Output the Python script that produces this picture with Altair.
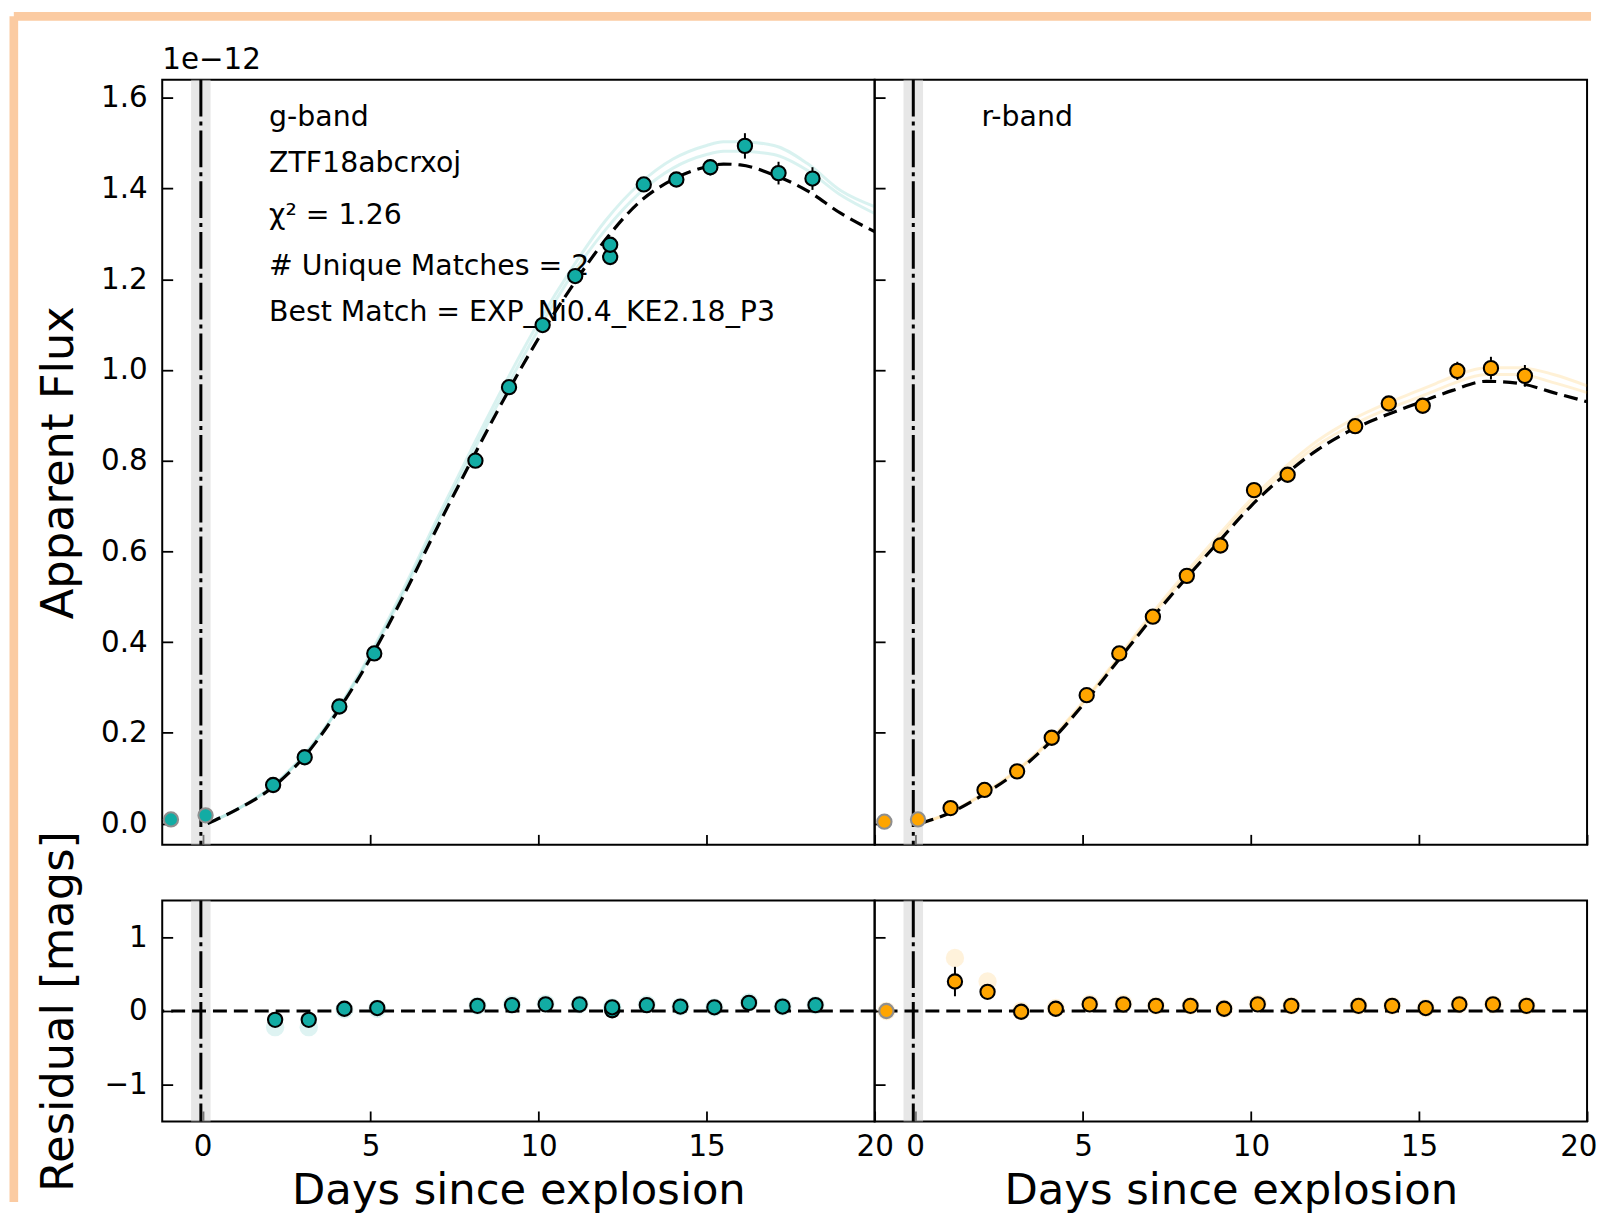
import altair as alt
import pandas as pd

# ---------------- data (flux in units of 1e-12) ----------------
g_days = [-0.94, 0.09, 2.10, 3.04, 4.07, 5.11, 8.12, 9.12, 10.12, 11.09,
          12.13, 12.13, 13.13, 14.10, 15.11, 16.14, 17.14, 18.15]
g_flux = [0.009, 0.018, 0.085, 0.146, 0.258, 0.375, 0.800, 0.962, 1.099, 1.207,
          1.249, 1.276, 1.409, 1.420, 1.447, 1.494, 1.434, 1.422]
g_ferr = [0.008, 0.008, 0.010, 0.010, 0.010, 0.010, 0.012, 0.012, 0.012, 0.012,
          0.014, 0.014, 0.016, 0.016, 0.018, 0.028, 0.025, 0.025]
g_fit = ["no", "no"] + ["yes"] * 16

r_days = [-0.91, 0.09, 1.06, 2.07, 3.04, 4.07, 5.11, 6.08, 7.08, 8.09, 9.09,
          10.09, 11.09, 13.10, 14.10, 15.11, 16.14, 17.14, 18.15]
r_flux = [0.004, 0.009, 0.034, 0.074, 0.115, 0.189, 0.283, 0.375, 0.456, 0.546, 0.613,
          0.735, 0.769, 0.876, 0.926, 0.921, 0.998, 1.004, 0.987]
r_ferr = [0.008, 0.008, 0.010, 0.010, 0.010, 0.010, 0.010, 0.012, 0.012, 0.012, 0.012,
          0.014, 0.014, 0.016, 0.016, 0.016, 0.020, 0.025, 0.024]
r_fit = ["no", "no"] + ["yes"] * 17

# best-match model and two other matched models
model_days = [0.15, 1, 2, 3, 4, 5, 6, 7, 8, 9, 10, 11, 12, 13, 14, 15, 15.5, 16, 17, 18, 19, 20]
g_model = [0.0, 0.03, 0.075, 0.145, 0.245, 0.365, 0.505, 0.655, 0.80, 0.94, 1.07, 1.185,
           1.288, 1.37, 1.42, 1.448, 1.454, 1.452, 1.43, 1.395, 1.345, 1.305]
g_alt1 = [0.0, 0.03, 0.078, 0.15, 0.25, 0.375, 0.52, 0.675, 0.825, 0.97, 1.105, 1.225,
          1.33, 1.41, 1.465, 1.495, 1.503, 1.503, 1.495, 1.455, 1.395, 1.36]
g_alt2 = [0.0, 0.03, 0.077, 0.148, 0.248, 0.37, 0.512, 0.665, 0.812, 0.955, 1.09, 1.21,
          1.31, 1.39, 1.445, 1.475, 1.482, 1.482, 1.475, 1.44, 1.385, 1.345]
r_model = [0.0, 0.022, 0.062, 0.112, 0.178, 0.262, 0.355, 0.448, 0.535, 0.618, 0.70, 0.768,
           0.825, 0.868, 0.90, 0.928, 0.942, 0.955, 0.975, 0.97, 0.95, 0.93]
r_alt1 = [0.0, 0.023, 0.065, 0.116, 0.183, 0.268, 0.362, 0.458, 0.548, 0.633, 0.715, 0.785,
          0.845, 0.89, 0.925, 0.955, 0.97, 0.985, 1.005, 1.005, 0.99, 0.965]
r_alt2 = [0.0, 0.022, 0.063, 0.114, 0.18, 0.265, 0.358, 0.452, 0.54, 0.625, 0.707, 0.776,
          0.835, 0.878, 0.912, 0.94, 0.955, 0.97, 0.99, 0.99, 0.972, 0.95]

# residuals [mags]
g_res_days = [2.16, 3.16, 4.22, 5.20, 8.18, 9.21, 10.21, 11.22, 12.19, 12.19,
              13.22, 14.22, 15.23, 16.26, 17.26, 18.24]
g_res = [-0.12, -0.12, 0.03, 0.04, 0.07, 0.08, 0.09, 0.09, 0.01, 0.05,
         0.08, 0.06, 0.05, 0.11, 0.06, 0.08]
g_res_err = [0.05, 0.05, 0.03, 0.03, 0.03, 0.03, 0.03, 0.03, 0.03, 0.03,
             0.03, 0.03, 0.03, 0.03, 0.03, 0.03]
g_res_alt = [-0.22, -0.22, 0.02, 0.03, 0.07, 0.09, 0.10, 0.09, 0.03, 0.05,
             0.09, 0.06, 0.05, 0.12, 0.06, 0.08]
g_res_fit = ["yes"] * 16

r_res_days = [-0.85, 1.19, 2.16, 3.16, 4.19, 5.20, 6.20, 7.17, 8.20, 9.20,
              10.20, 11.20, 13.20, 14.20, 15.20, 16.20, 17.20, 18.20]
r_res = [0.0, 0.40, 0.26, -0.01, 0.03, 0.09, 0.09, 0.07, 0.07, 0.03,
         0.09, 0.07, 0.07, 0.07, 0.04, 0.09, 0.09, 0.07]
r_res_err = [0.03, 0.20, 0.08, 0.04, 0.03, 0.03, 0.03, 0.03, 0.03, 0.03,
             0.03, 0.03, 0.03, 0.03, 0.03, 0.03, 0.03, 0.03]
r_res_alt = [0.0, 0.72, 0.40, 0.0, 0.04, 0.10, 0.10, 0.07, 0.07, 0.03,
             0.10, 0.07, 0.07, 0.07, 0.04, 0.09, 0.09, 0.07]
r_res_fit = ["no"] + ["yes"] * 17

explosion_day = [-0.05]
explosion_band = [-0.34, 0.24]

g_notes = ["g-band", "ZTF18abcrxoj", "χ² = 1.26", "# Unique Matches = 2",
           "Best Match = EXP_Ni0.4_KE2.18_P3"]
g_notes_y = [1.537, 1.436, 1.3225, 1.209, 1.107]
r_notes = ["r-band"]
r_notes_y = [1.537]
notes_x = 1.98
offset_text = ["1e−12"]
offset_pos = [-1.2, 1.664]

# ---------------- styling ----------------
FONT = "DejaVu Sans"
TEAL = "#12aca4"
ORANGE = "#ffa500"
PEACH = "#fbcba2"
W, H_TOP, H_RES = 716, 769, 222
GAP = 56
TICK = 10.5
STRIP = 8.7
X_DOMAIN = [-1.2, 20.0]
FLUX_DOMAIN = [-0.047, 1.64]
RES_DOMAIN = [-1.5, 1.5]
PT_SIZE = 205
PT_STROKE = 2.1

x_scale = alt.Scale(domain=X_DOMAIN, nice=False, zero=False)
flux_scale = alt.Scale(domain=FLUX_DOMAIN, nice=False, zero=False)
res_scale = alt.Scale(domain=RES_DOMAIN, nice=False, zero=False)


def x_axis(labels, flush=False):
    kw = dict(values=[0, 5, 10, 15, 20], tickSize=TICK, offset=-TICK, domain=False,
              grid=False, tickColor="black", tickWidth=1.8, labels=labels)
    if labels:
        kw.update(labelFontSize=29.5, labelFont=FONT, labelColor="black", labelPadding=11,
                  title="Days since explosion", titleFontSize=43.5, titleFont=FONT,
                  titleFontWeight="normal", titleColor="black",
                  titleBaseline="alphabetic", titleY=93)
        if flush:
            kw.update(labelFlush=True, labelFlushOffset=10)
        else:
            kw.update(labelFlush=False)
    else:
        kw["title"] = None
    return alt.Axis(**kw)


def y_axis(values, fmt, title, labels):
    kw = dict(values=values, tickSize=TICK, offset=-TICK, domain=False, grid=False,
              tickColor="black", tickWidth=1.8, labels=labels)
    if labels:
        kw.update(format=fmt, labelFontSize=29.5, labelFont=FONT, labelColor="black",
                  labelPadding=15)
    if title:
        kw.update(title=title, titleFontSize=45, titleFont=FONT, titleFontWeight="normal",
                  titleColor="black", titleBaseline="alphabetic", titleX=-100.3,
                  titleAngle=270)
    else:
        kw["title"] = None
    return alt.Axis(**kw)


def explosion_layers(xax, height):
    band_df = pd.DataFrame({"lo": [explosion_band[0]], "hi": [explosion_band[1]]})
    band = alt.Chart(band_df).mark_rect(color="#d4d4d4", opacity=0.55).encode(
        x=alt.X("lo:Q", scale=x_scale, axis=xax), x2="hi:Q",
        y=alt.value(0), y2=alt.value(height))
    line = alt.Chart(pd.DataFrame({"t0": explosion_day})).mark_rule(
        color="black", strokeWidth=3, strokeDash=[37, 5, 4, 5]).encode(
        x=alt.X("t0:Q", scale=x_scale, axis=xax))
    return [band, line]


def point_layer(df, X, Y, yfield, color):
    return alt.Chart(df).mark_point(shape="circle", filled=True, size=PT_SIZE,
                                    strokeWidth=PT_STROKE, opacity=1).encode(
        x=X("t:Q"), y=Y(yfield), fill=alt.value(color),
        stroke=alt.Stroke("fit:N", scale=alt.Scale(domain=["yes", "no"],
                                                   range=["black", "#8f8f8f"]), legend=None))


def flux_panel(days, flux, ferr, fit, model, alts, color, notes, notes_y, left):
    xax = x_axis(False)
    yax = y_axis([0, 0.2, 0.4, 0.6, 0.8, 1.0, 1.2, 1.4, 1.6], ".1f",
                 "Apparent Flux" if left else None, left)
    X = lambda f: alt.X(f, scale=x_scale, axis=xax)
    Y = lambda f: alt.Y(f, scale=flux_scale, axis=yax)

    layers = explosion_layers(xax, H_TOP)

    alt_df = pd.concat([pd.DataFrame({"t": model_days, "f": a, "m": f"m{i}"})
                        for i, a in enumerate(alts)])
    layers.append(alt.Chart(alt_df).mark_line(color=color, opacity=0.16, strokeWidth=3,
                                              interpolate="monotone").encode(
        x=X("t:Q"), y=Y("f:Q"), detail="m:N"))
    mdf = pd.DataFrame({"t": model_days, "f": model})
    layers.append(alt.Chart(mdf).mark_line(color="black", strokeWidth=3.2, strokeDash=[14, 7],
                                           interpolate="monotone").encode(
        x=X("t:Q"), y=Y("f:Q")))

    ndf = pd.DataFrame({"label": notes, "y": notes_y, "x": [notes_x] * len(notes)})
    layers.append(alt.Chart(ndf).mark_text(align="left", baseline="alphabetic", font=FONT,
                                           fontSize=28.5, color="black").encode(
        x=X("x:Q"), y=Y("y:Q"), text="label:N"))
    if left:
        odf = pd.DataFrame({"label": offset_text, "x": [offset_pos[0]], "y": [offset_pos[1]]})
        layers.append(alt.Chart(odf).mark_text(align="left", baseline="alphabetic", font=FONT,
                                               fontSize=29.5, color="black").encode(
            x=X("x:Q"), y=Y("y:Q"), text="label:N"))

    pdf = pd.DataFrame({"t": days, "f": flux, "fit": fit,
                        "lo": [a - b for a, b in zip(flux, ferr)],
                        "hi": [a + b for a, b in zip(flux, ferr)]})
    layers.append(alt.Chart(pdf).mark_rule(color="black", strokeWidth=2).encode(
        x=X("t:Q"), y=Y("lo:Q"), y2="hi:Q"))
    layers.append(point_layer(pdf, X, Y, "f:Q", color))

    if left:
        # peach frame strips (top and left edge of the original screenshot)
        dummy = pd.DataFrame({"a": [0]})
        half = STRIP / 2
        layers.append(alt.Chart(dummy).mark_rule(color=PEACH, strokeWidth=STRIP).encode(
            x=alt.value(-153.5 + half), x2=alt.value(2 * W + 4), y=alt.value(-68 + half)))
        layers.append(alt.Chart(dummy).mark_rule(color=PEACH, strokeWidth=STRIP).encode(
            x=alt.value(-153.5 + half), y=alt.value(-68 + half), y2=alt.value(1128)))

    return alt.layer(*layers).properties(width=W, height=H_TOP)


def res_panel(days, res, rerr, ralt, fit, color, left):
    xax = x_axis(True, flush=not left)
    yax = y_axis([-1, 0, 1], "d", "Residual [mags]" if left else None, left)
    X = lambda f: alt.X(f, scale=x_scale, axis=xax)
    Y = lambda f: alt.Y(f, scale=res_scale, axis=yax)

    layers = explosion_layers(xax, H_RES)
    hdf = pd.DataFrame({"t": days, "r": ralt})
    layers.append(alt.Chart(hdf).mark_circle(color=color, size=340, opacity=0.14).encode(
        x=X("t:Q"), y=Y("r:Q")))
    zdf = pd.DataFrame({"zero": [0]})
    layers.append(alt.Chart(zdf).mark_rule(color="black", strokeWidth=3.2,
                                           strokeDash=[14, 7]).encode(y=Y("zero:Q")))
    pdf = pd.DataFrame({"t": days, "r": res, "fit": fit,
                        "lo": [a - b for a, b in zip(res, rerr)],
                        "hi": [a + b for a, b in zip(res, rerr)]})
    layers.append(alt.Chart(pdf).mark_rule(color="black", strokeWidth=2).encode(
        x=X("t:Q"), y=Y("lo:Q"), y2="hi:Q"))
    layers.append(point_layer(pdf, X, Y, "r:Q", color))
    return alt.layer(*layers).properties(width=W, height=H_RES)


chart = alt.concat(
    flux_panel(g_days, g_flux, g_ferr, g_fit, g_model, [g_alt1, g_alt2], TEAL,
               g_notes, g_notes_y, True),
    flux_panel(r_days, r_flux, r_ferr, r_fit, r_model, [r_alt1, r_alt2], ORANGE,
               r_notes, r_notes_y, False),
    res_panel(g_res_days, g_res, g_res_err, g_res_alt, g_res_fit, TEAL, True),
    res_panel(r_res_days, r_res, r_res_err, r_res_alt, r_res_fit, ORANGE, False),
    columns=2, spacing={"row": GAP, "column": 0}, bounds="flush", align="each",
).properties(
    padding={"left": 0, "top": 0, "right": 0, "bottom": 0},
    background="white",
).configure_view(stroke="black", strokeWidth=2).resolve_scale(stroke="independent")

chart.save("out.html", embed_options={"renderer": "svg", "actions": False})
